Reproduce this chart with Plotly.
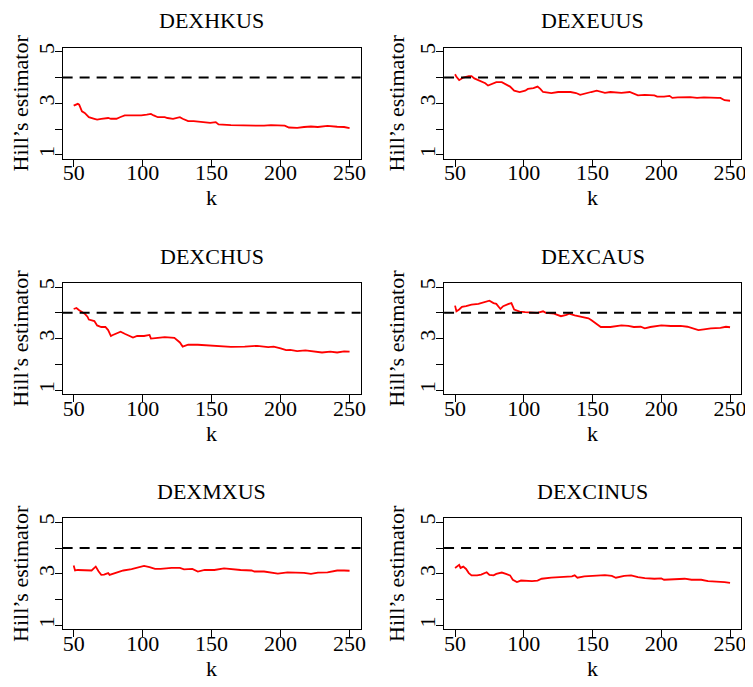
import plotly.graph_objects as go

# ---------------- data ----------------
series_names = ["DEXHKUS", "DEXEUUS", "DEXCHUS", "DEXCAUS", "DEXMXUS", "DEXCINUS"]

hkus_k = [50, 53, 54, 56, 58, 61, 65, 67, 70, 75, 77, 81, 84, 87, 91, 99, 103, 106, 108, 111, 116, 118, 122, 124, 127, 129, 133, 137, 142, 149, 153, 155, 164, 174, 183, 188, 193, 203, 206, 212, 217, 222, 227, 234, 241, 246, 250]
hkus_v = [2.91, 2.98, 2.95, 2.69, 2.63, 2.46, 2.40, 2.37, 2.40, 2.43, 2.40, 2.40, 2.47, 2.53, 2.53, 2.53, 2.56, 2.59, 2.53, 2.46, 2.46, 2.43, 2.40, 2.43, 2.46, 2.40, 2.31, 2.31, 2.27, 2.24, 2.27, 2.18, 2.15, 2.14, 2.15, 2.13, 2.15, 2.13, 2.06, 2.05, 2.08, 2.10, 2.08, 2.12, 2.09, 2.08, 2.04]

euus_k = [50, 51, 53, 56, 60, 62, 64, 68, 72, 74, 77, 80, 84, 87, 90, 93, 97, 101, 103, 107, 110, 112, 114, 120, 125, 134, 138, 141, 144, 149, 153, 156, 159, 163, 171, 177, 180, 183, 188, 195, 197, 202, 206, 208, 212, 221, 226, 231, 241, 243, 246, 250]
euus_v = [4.13, 4.03, 3.90, 4.00, 4.06, 4.06, 3.97, 3.88, 3.78, 3.69, 3.74, 3.82, 3.82, 3.74, 3.65, 3.49, 3.44, 3.49, 3.56, 3.59, 3.65, 3.56, 3.44, 3.40, 3.44, 3.44, 3.40, 3.33, 3.36, 3.44, 3.49, 3.44, 3.41, 3.44, 3.41, 3.44, 3.36, 3.31, 3.33, 3.31, 3.26, 3.26, 3.29, 3.21, 3.23, 3.24, 3.21, 3.23, 3.21, 3.21, 3.12, 3.10]

chus_k = [50, 52, 54, 56, 58, 60, 61, 65, 67, 70, 73, 75, 77, 78, 82, 84, 87, 90, 93, 96, 101, 105, 106, 111, 116, 123, 125, 127, 129, 133, 140, 149, 155, 164, 174, 183, 191, 195, 200, 204, 207, 212, 218, 224, 230, 236, 241, 246, 250]
chus_v = [4.15, 4.19, 4.10, 4.03, 3.97, 3.85, 3.74, 3.68, 3.51, 3.45, 3.45, 3.33, 3.10, 3.13, 3.23, 3.27, 3.19, 3.10, 3.04, 3.10, 3.10, 3.14, 3.00, 3.03, 3.06, 3.03, 2.95, 2.85, 2.69, 2.76, 2.76, 2.74, 2.71, 2.68, 2.69, 2.72, 2.67, 2.69, 2.62, 2.55, 2.56, 2.51, 2.54, 2.51, 2.46, 2.49, 2.46, 2.50, 2.49]

caus_k = [50, 51, 53, 55, 58, 62, 67, 72, 75, 78, 80, 83, 85, 89, 91, 93, 97, 101, 106, 110, 114, 116, 122, 127, 131, 133, 137, 142, 147, 149, 151, 154, 156, 163, 171, 176, 180, 185, 188, 192, 200, 207, 214, 219, 224, 227, 231, 236, 243, 247, 250]
caus_v = [4.28, 4.06, 4.13, 4.23, 4.26, 4.32, 4.35, 4.42, 4.47, 4.38, 4.35, 4.15, 4.26, 4.35, 4.38, 4.13, 4.05, 4.03, 4.00, 4.00, 4.06, 4.00, 3.97, 3.87, 3.92, 3.97, 3.90, 3.85, 3.79, 3.72, 3.64, 3.54, 3.45, 3.45, 3.51, 3.49, 3.45, 3.46, 3.40, 3.45, 3.51, 3.49, 3.49, 3.46, 3.38, 3.33, 3.36, 3.40, 3.42, 3.46, 3.44]

mxus_k = [50, 51, 53, 58, 63, 65, 66, 68, 70, 72, 75, 76, 80, 82, 86, 92, 96, 101, 105, 109, 113, 121, 127, 130, 136, 140, 145, 152, 159, 164, 171, 179, 181, 188, 193, 198, 205, 212, 217, 222, 227, 234, 241, 246, 250]
mxus_v = [3.32, 3.13, 3.15, 3.13, 3.13, 3.23, 3.28, 3.10, 2.96, 2.97, 3.03, 2.96, 3.03, 3.04, 3.13, 3.18, 3.23, 3.31, 3.26, 3.19, 3.19, 3.23, 3.23, 3.17, 3.19, 3.09, 3.15, 3.15, 3.21, 3.18, 3.15, 3.13, 3.09, 3.09, 3.04, 3.01, 3.06, 3.06, 3.04, 3.00, 3.05, 3.06, 3.13, 3.13, 3.12]

cinus_k = [50, 52, 53, 54, 56, 58, 60, 62, 66, 69, 73, 75, 78, 80, 84, 87, 90, 92, 95, 98, 106, 110, 113, 120, 127, 135, 137, 139, 144, 151, 159, 164, 167, 173, 178, 183, 188, 195, 200, 202, 209, 217, 222, 229, 234, 241, 246, 250]
cinus_v = [3.23, 3.30, 3.35, 3.23, 3.28, 3.19, 3.03, 2.94, 2.94, 2.97, 3.06, 2.96, 2.94, 3.00, 3.05, 3.00, 2.94, 2.77, 2.68, 2.74, 2.72, 2.74, 2.81, 2.85, 2.87, 2.90, 2.94, 2.85, 2.90, 2.92, 2.95, 2.92, 2.85, 2.92, 2.94, 2.87, 2.83, 2.81, 2.82, 2.77, 2.79, 2.81, 2.77, 2.77, 2.72, 2.71, 2.68, 2.65]

threshold = 4
x_tick_vals = [50, 100, 150, 200, 250]
y_tick_vals = [1, 2, 3, 4, 5]
y_tick_text = ["1", "", "3", "", "5"]
x_range = [42, 258]
y_range = [0.84, 5.16]

all_k = [hkus_k, euus_k, chus_k, caus_k, mxus_k, cinus_k]
all_v = [hkus_v, euus_v, chus_v, caus_v, mxus_v, cinus_v]

# ---------------- layout geometry ----------------
# the page body has an 8px margin, so the figure is drawn 8px in from the corner
OFF = 8
PAGE_W, PAGE_H = 753, 687
W, H = PAGE_W - OFF, PAGE_H - OFF
col_px = [(63, 363), (447, 746)]        # page pixels
row_top_px = [43, 280, 517]             # page pixels
box_h = 112


def fx(px):
    return (px - OFF) / W


def fy(py):
    return 1 - (py - OFF) / H


FONT = "Liberation Serif, Times New Roman, Times, serif"
fig = go.Figure()

layout_axes = {}
annotations = []
shapes = []
for i, name in enumerate(series_names):
    r, c = divmod(i, 2)
    idx = i + 1
    xa = "x" if idx == 1 else f"x{idx}"
    ya = "y" if idx == 1 else f"y{idx}"
    x0, x1 = col_px[c]
    top = row_top_px[r]
    xdom = [fx(x0), fx(x1)]
    ydom = [fy(top + box_h), fy(top)]

    fig.add_trace(go.Scatter(
        x=all_k[i], y=all_v[i], mode="lines",
        line=dict(color="#ff0000", width=1.8),
        xaxis=xa, yaxis=ya, showlegend=False, name=name,
    ))

    common = dict(showline=True, linecolor="black", linewidth=1, mirror=True,
                  ticks="outside", ticklen=7, tickwidth=1, tickcolor="black",
                  showgrid=False, zeroline=False, ticklabeloverflow="allow",
                  tickfont=dict(family=FONT, size=22, color="black"))
    layout_axes["xaxis" if idx == 1 else f"xaxis{idx}"] = dict(
        domain=xdom, anchor=ya, range=x_range,
        tickmode="array", tickvals=x_tick_vals,
        ticklabelstandoff=-13,
        title=dict(text="k", font=dict(family=FONT, size=22, color="black"), standoff=4),
        **common)
    layout_axes["yaxis" if idx == 1 else f"yaxis{idx}"] = dict(
        domain=ydom, anchor=xa, range=y_range,
        tickmode="array", tickvals=y_tick_vals, ticktext=y_tick_text,
        tickangle=-90, ticklabelstandoff=-8,
        title=dict(text="Hill’s estimator", font=dict(family=FONT, size=22, color="black"), standoff=4),
        **common)

    shapes.append(dict(type="line", xref=f"{xa} domain", yref=ya,
                       x0=0, x1=1, y0=threshold, y1=threshold,
                       line=dict(color="black", width=2, dash="10px,7px")))

    annotations.append(dict(
        text=name, xref="paper", yref="paper",
        x=fx((x0 + x1) / 2), y=fy(top - 27),
        xanchor="center", yanchor="middle", showarrow=False,
        font=dict(family=FONT, size=22, color="black")))

fig.update_layout(
    width=W, height=H,
    margin=dict(l=0, r=0, t=0, b=0),
    paper_bgcolor="white", plot_bgcolor="white",
    annotations=annotations, shapes=shapes,
    **layout_axes,
)

fig.write_html("out.html")
